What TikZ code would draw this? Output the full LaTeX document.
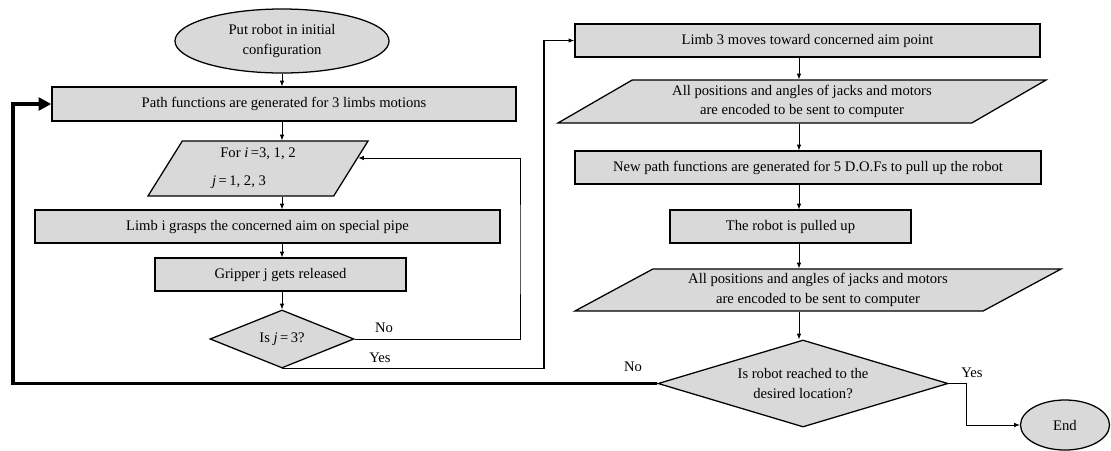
\documentclass[tikz,border=0pt]{standalone}
\usepackage{fontspec}
\setmainfont{Liberation Serif}
\usepackage{tikz}
\usetikzlibrary{shapes.geometric,arrows.meta}
\definecolor{box_gray}{RGB}{217,217,217}

\begin{document}
\begin{tikzpicture}[x=0.025cm,y=-0.025cm,
    font=\fontsize{10.4}{14}\selectfont,
    >={Latex[length=4pt,width=3.2pt]},
    shade/.style={draw,fill=box_gray,line width=0.9pt,inner sep=0pt,align=center},
    procbox/.style={shade,rectangle,minimum height=0.825cm},
    iobox/.style={shade,trapezium,trapezium stretches body},
    termbox/.style={shade,ellipse},
    testbox/.style={shade,diamond},
    flow/.style={->,line width=0.6pt},
    answer/.style={inner sep=1pt}]

    \useasboundingbox (0,0) rectangle (1111,450);

    \coordinate (lc) at (282,0);
    \coordinate (rc) at (799,0);

    % left column
    \node[termbox,minimum width=5.35cm,minimum height=1.6cm] (start) at (282,41) {Put robot in initial\\configuration};
    \node[procbox,minimum width=11.6cm,minimum height=0.85cm] (path) at (284,104) {Path functions are generated for 3 limbs motions};
    \node[iobox,trapezium left angle=50,trapezium right angle=130,minimum width=5.5cm,minimum height=1.375cm] (loop) at (258,168.5)
        {For \textit{i}\,=3, 1, 2\\[6pt]\textit{j}\,=\,1, 2, 3\hspace*{27pt}};
    \node[procbox,minimum width=11.625cm] (grasp) at (267.5,226.5) {Limb i grasps the concerned aim on special pipe};
    \node[procbox,minimum width=6.275cm] (release) at (280.5,274.5) {Gripper j gets released};
    \node[testbox,aspect=2.5,minimum width=3.6cm,minimum height=1.45cm] (checkj) at (282,339) {Is \textit{j}\,=\,3?};

    % right column
    \node[procbox,minimum width=11.625cm] (aim) at (807.5,40.5) {Limb 3 moves toward concerned aim point};
    \node[iobox,trapezium left angle=24,trapezium right angle=156,minimum width=12.2cm,minimum height=1.075cm] (enc1) at (802,101.5)
        {All positions and angles of jacks and motors\\are encoded to be sent to computer};
    \node[procbox,minimum width=11.65cm] (newpath) at (808,167.5) {New path functions are generated for 5 D.O.Fs to pull up the robot};
    \node[procbox,minimum width=6.025cm] (pulled) at (790.5,226.5) {The robot is pulled up};
    \node[iobox,trapezium left angle=23,trapezium right angle=157,minimum width=12.15cm,minimum height=1.05cm] (enc2) at (818,290)
        {All positions and angles of jacks and motors\\are encoded to be sent to computer};
    \node[testbox,aspect=3.3,minimum width=7.25cm,minimum height=2.175cm] (reach) at (803,383.5) {Is robot reached to the\\desired location?};
    \node[termbox,minimum width=2.225cm,minimum height=1.25cm] (end) at (1065,425) {End};

    \draw[flow] (lc |- start.south) -- (lc |- path.north);
    \draw[flow] (lc |- path.south) -- (lc |- loop.north);
    \draw[flow] (lc |- loop.south) -- (lc |- grasp.north);
    \draw[flow] (lc |- grasp.south) -- (lc |- release.north);
    \draw[flow] (lc |- release.south) -- (checkj.north);

    \draw[flow] (rc |- aim.south) -- (rc |- enc1.north);
    \draw[flow] (rc |- enc1.south) -- (rc |- newpath.north);
    \draw[flow] (rc |- newpath.south) -- (rc |- pulled.north);
    \draw[flow] (rc |- pulled.south) -- (rc |- enc2.north);
    \draw[flow] (rc |- enc2.south) -- (rc |- reach.north);

    % loops back
    \coordinate (noturn) at (520,250);
    \draw[flow] (checkj.east) -| (noturn) |- (loop.6);
    \coordinate (yesturn) at (544,200);
    \draw[flow,line width=1.1pt] (checkj.south) -| (yesturn) |- (aim.west);
    \coordinate (backturn) at (13,200);
    \draw[->,line width=2.6pt,>={Triangle[length=9pt,width=9pt]}] (reach.west) -| (backturn) |- (path.west);
    \coordinate (endturn) at (966,400);
    \draw[flow] (reach.east) -| (endturn) |- (end.west);

    \node[answer] (jno) at (384,328) {No};
    \node[answer] (jyes) at (380,358) {Yes};
    \node[answer] (rno) at (633,367) {No};
    \node[answer] (ryes) at (972,373) {Yes};
\end{tikzpicture}
\end{document}
